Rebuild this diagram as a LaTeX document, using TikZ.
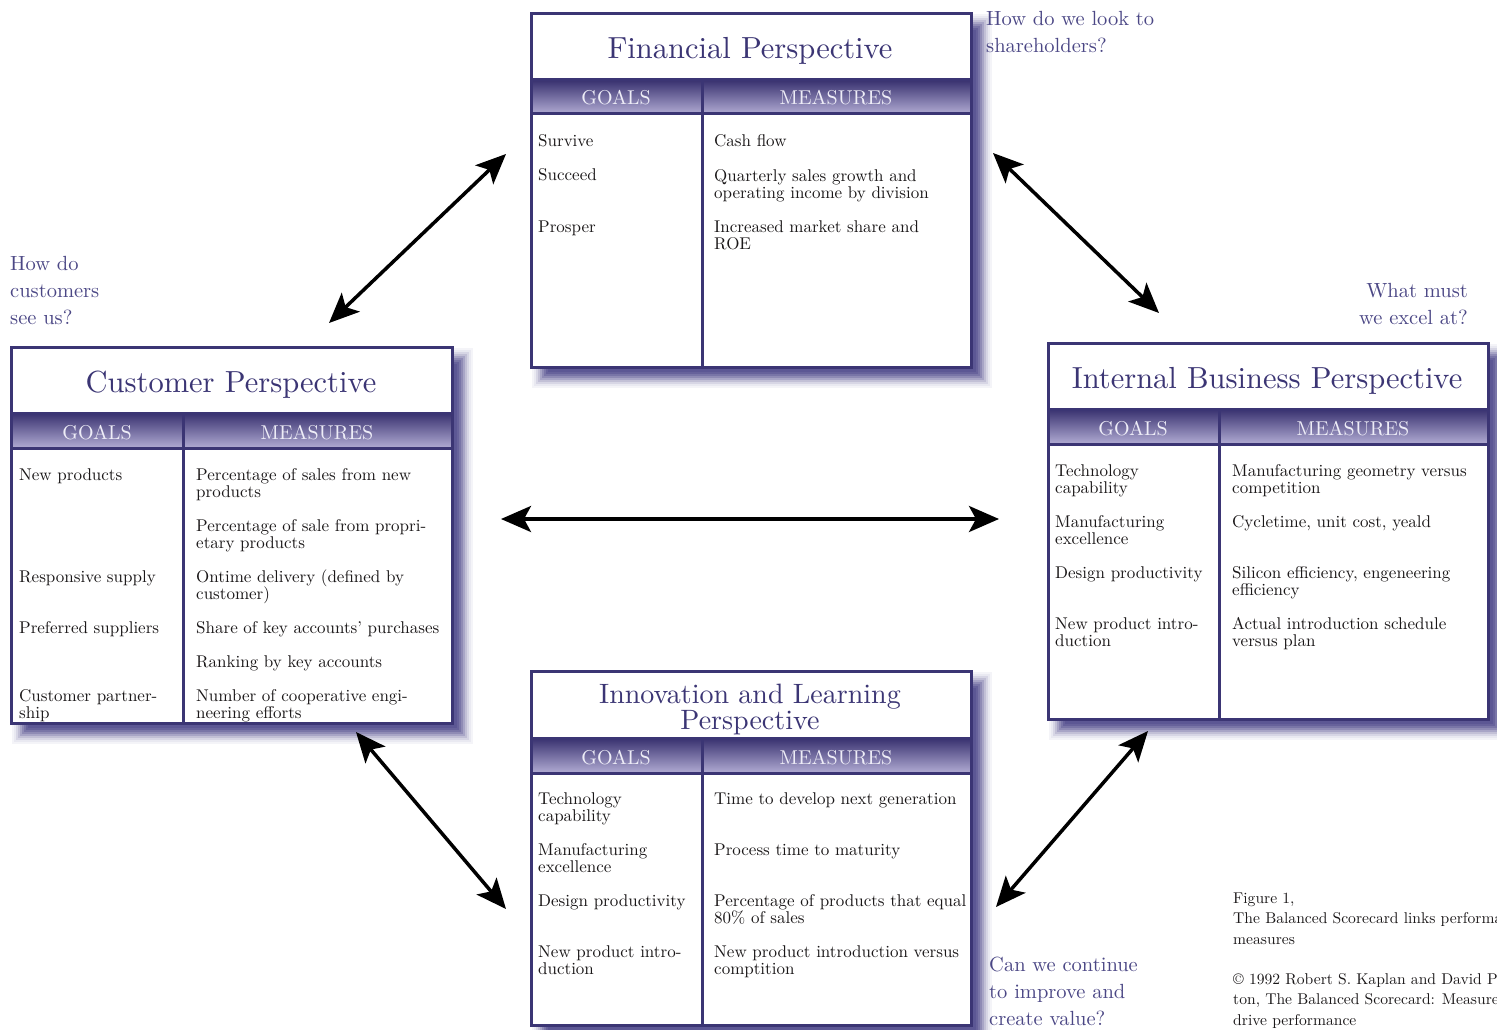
\documentclass[tikz,border=0pt]{standalone}
\usepackage{fontspec}
\setmainfont{lmroman10-regular.otf}
\usetikzlibrary{arrows.meta}
\definecolor{bp}{HTML}{3B3574}
\definecolor{qc}{HTML}{4B4785}
\definecolor{hdtop}{HTML}{38316F}
\definecolor{hdmid}{HTML}{5A5392}
\definecolor{hdbot}{HTML}{B1ABD3}
\definecolor{hdtext}{HTML}{EEEDF7}
\definecolor{shc}{HTML}{4A4488}
\definecolor{txt}{HTML}{1A1718}
\newcommand{\bodyf}{\fontsize{17}{17}\selectfont}
% #1 name, #2 x0, #3 y0, #4 x1, #5 y1, #6 title sep y, #7 header bottom y, #8 divider x
\newcommand{\pbox}[8]{%
  \foreach \rr/\cc in {10/6, 8/12, 6/22, 4/34, 2/48, 0/62, -2/74, -4/84, -6/90}{
    \fill[shc!\cc] ({#2+12-(\rr)},{#3+12-(\rr)}) rectangle ({#4+12+(\rr)},{#5+12+(\rr)});
  }
  \fill[white] (#2,#3) rectangle (#4,#5);
  \shade[top color=hdtop, middle color=hdmid, bottom color=hdbot] (#2,#6) rectangle (#4,#7);
  \draw[frame] (#2,#6) -- (#4,#6);
  \draw[frame] (#2,#7) -- (#4,#7);
  \draw[frame] (#8,#6) -- (#8,#5);
  \node[frame, inner sep=0, anchor=north west, minimum width={(#4-#2)*1pt}, minimum height={(#5-#3)*1pt}] (#1) at (#2,#3) {};
}
\begin{document}
\begin{tikzpicture}[x=1pt,y=-1pt,
  frame/.style={draw=bp, line width=3pt},
  body/.style={anchor=base west, align=left, font=\bodyf, inner sep=0, text=txt},
  ttl/.style={anchor=base, align=center, font=\fontsize{30.5}{26}\selectfont, text=bp, inner sep=0},
  hd/.style={anchor=base, font=\fontsize{20}{20}\selectfont, text=hdtext, inner sep=0},
  qn/.style={anchor=base west, align=left, font=\fontsize{20.5}{27}\selectfont, text=qc, inner sep=0},
  capt/.style={anchor=base west, align=left, font=\fontsize{15.6}{20.4}\selectfont, text=txt, inner sep=0},
  arr/.style={line width=3.5pt, {Stealth[length=30pt,width=26pt,inset=7pt]}-{Stealth[length=30pt,width=26pt,inset=7pt]}},
]
\useasboundingbox (0,0) rectangle (1497,1030);
\clip (0,0) rectangle (1497,1030);

% ---------- Financial ----------
\pbox{fin}{530}{12}{970}{366}{80}{114}{702}
\node[ttl] (finT) at (750,59) {Financial Perspective};
\node[hd] (finG) at (616,105) {GOALS};
\node[hd] (finM) at (836,105) {MEASURES};
\node[body] (fg1) at (538,147) {Survive};
\node[body] (fg2) at (538,181) {Succeed};
\node[body] (fg3) at (538,232) {Prosper};
\node[body] (fm1) at (714,147) {Cash flow};
\node[body] (fm2) at (714,198) {Quarterly sales growth and\\operating income by division};
\node[body] (fm3) at (714,249) {Increased market share and\\ROE};

% ---------- Customer ----------
\pbox{cus}{10}{346}{451}{722}{413}{448}{183}
\node[ttl] (cusT) at (231,392) {Customer Perspective};
\node[hd] (cusG) at (97,439) {GOALS};
\node[hd] (cusM) at (317,439) {MEASURES};
\node[body] (cg1) at (19,480) {New products};
\node[body] (cg2) at (19,582) {Responsive supply};
\node[body] (cg3) at (19,633) {Preferred suppliers};
\node[body] (cg4) at (19,718) {Customer partner-\\ship};
\node[body] (cm1) at (196,497) {Percentage of sales from new\\products};
\node[body] (cm2) at (196,548) {Percentage of sale from propri-\\etary products};
\node[body] (cm3) at (196,599) {Ontime delivery (defined by\\customer)};
\node[body] (cm4) at (196,633) {Share of key accounts’ purchases};
\node[body] (cm5) at (196,667) {Ranking by key accounts};
\node[body] (cm6) at (196,718) {Number of cooperative engi-\\neering efforts};

% ---------- Internal ----------
\pbox{ibp}{1047}{342}{1487}{718}{409}{444}{1219}
\node[ttl] (ibpT) at (1267,388) {Internal Business Perspective};
\node[hd] (ibpG) at (1133,435) {GOALS};
\node[hd] (ibpM) at (1353,435) {MEASURES};
\node[body] (ig1) at (1055,493) {Technology\\capability};
\node[body] (ig2) at (1055,544) {Manufacturing\\excellence};
\node[body] (ig3) at (1055,578) {Design productivity};
\node[body] (ig4) at (1055,646) {New product intro-\\duction};
\node[body] (im1) at (1232,493) {Manufacturing geometry versus\\competition};
\node[body] (im2) at (1232,527) {Cycletime, unit cost, yeald};
\node[body] (im3) at (1232,595) {Silicon efficiency, engeneering\\efficiency};
\node[body] (im4) at (1232,646) {Actual introduction schedule\\versus plan};

% ---------- Innovation ----------
\pbox{inn}{530}{670}{970}{1024}{738}{773}{702}
\node[ttl, font=\fontsize{28}{26}\selectfont] (innT) at (750,729) {Innovation and Learning\\Perspective};
\node[hd] (innG) at (616,764) {GOALS};
\node[hd] (innM) at (836,764) {MEASURES};
\node[body] (ng1) at (538,821) {Technology\\capability};
\node[body] (ng2) at (538,872) {Manufacturing\\excellence};
\node[body] (ng3) at (538,906) {Design productivity};
\node[body] (ng4) at (538,974) {New product intro-\\duction};
\node[body] (nm1) at (714,804) {Time to develop next generation};
\node[body] (nm2) at (714,855) {Process time to maturity};
\node[body] (nm3) at (714,923) {Percentage of products that equal\\80\% of sales};
\node[body] (nm4) at (714,974) {New product introduction versus\\comptition};

% ---------- Questions ----------
\node[qn] (q1) at (986,53) {How do we look to\\shareholders?};
\node[qn] (q2) at (10,324) {How do\\customers\\see us?};
\node[qn, anchor=base east, align=right] (q3) at (1468,324) {What must\\we excel at?};
\node[qn] (q4) at (989,1025) {Can we continue\\to improve and\\create value?};

% ---------- Caption ----------
\node[capt] (cap1) at (1233,944) {Figure 1,\\The Balanced Scorecard links performance\\measures};
\node[capt] (cap2) at (1233,1025) {© 1992 Robert S. Kaplan and David P. Nor-\\ton, The Balanced Scorecard: Measures that\\drive performance};

% ---------- Arrows ----------
\coordinate (a1) at (506,154);
\coordinate (a2) at (329,323);
\coordinate (b1) at (993,153);
\coordinate (b2) at (1159,313);
\coordinate (c1) at (501,519);
\coordinate (c2) at (999,519);
\coordinate (d1) at (356,732);
\coordinate (d2) at (506,909);
\coordinate (e1) at (996,907);
\coordinate (e2) at (1148,731);
\draw[arr] (a1) -- (a2);
\draw[arr] (b1) -- (b2);
\draw[arr] (c1) -- (c2);
\draw[arr] (d1) -- (d2);
\draw[arr] (e1) -- (e2);
\end{tikzpicture}
\end{document}
